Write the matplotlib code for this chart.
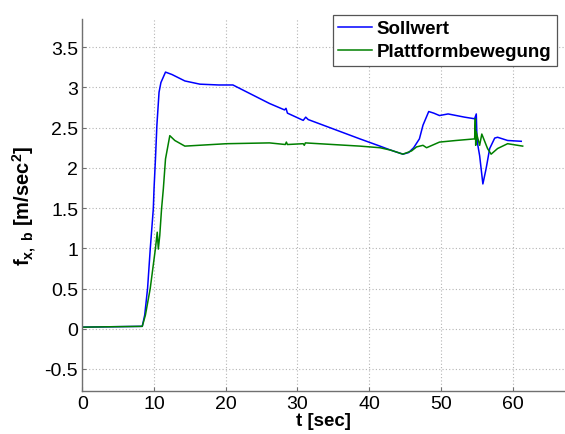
import matplotlib
matplotlib.use("Agg")
import matplotlib.pyplot as plt

plt.rcParams['font.family'] = ['Liberation Sans', 'DejaVu Sans']
plt.rcParams['mathtext.fontset'] = 'custom'
plt.rcParams['mathtext.rm'] = 'Liberation Sans:bold'
plt.rcParams['mathtext.it'] = 'Liberation Sans:bold'
plt.rcParams['mathtext.bf'] = 'Liberation Sans:bold'

# Sollwert (setpoint), breakpoints t [sec] / f [m/sec^2]
t_soll = [0, 8.36, 8.7, 9.1, 9.48, 9.9, 10.0, 10.2, 10.4, 10.7, 10.96, 11.6,
          12.5, 14.3, 16.4, 19.0, 21.0, 26.1, 28.2, 28.4, 28.6, 30.8, 31.15,
          31.5, 38.7, 41.5, 43.0, 44.7, 45.5, 46.2, 47.0, 47.5, 48.3, 49.0,
          49.8, 51.0, 53.3, 54.7, 54.93, 55.0, 55.07, 55.4, 55.85, 56.3, 56.8,
          57.5, 57.9, 59.3, 61.2]
f_soll = [0.02, 0.03, 0.17, 0.5, 1.0, 1.49, 1.74, 2.11, 2.53, 2.94, 3.06, 3.19,
          3.16, 3.08, 3.04, 3.03, 3.03, 2.80, 2.72, 2.74, 2.68, 2.59, 2.63,
          2.60, 2.36, 2.27, 2.22, 2.17, 2.19, 2.25, 2.36, 2.53, 2.70, 2.68,
          2.65, 2.67, 2.63, 2.61, 2.67, 2.45, 2.32, 2.15, 1.80, 1.99, 2.24,
          2.37, 2.38, 2.34, 2.33]

# Plattformbewegung (platform motion)
t_platt = [0, 8.36, 8.8, 9.47, 10.2, 10.45, 10.6, 10.8, 11.05, 11.3, 11.6,
           12.2, 12.9, 14.3, 20.1, 26.1, 28.3, 28.45, 28.6, 30.8, 30.95, 31.1,
           38.7, 41.5, 43.0, 44.7, 45.9, 46.6, 47.5, 48.0, 49.8, 52.1, 54.7,
           54.8, 54.85, 54.9, 55.4, 55.7, 56.5, 57.0, 57.9, 59.3, 61.4]
f_platt = [0.02, 0.03, 0.17, 0.5, 1.0, 1.20, 0.99, 1.16, 1.49, 1.74, 2.11,
           2.40, 2.34, 2.27, 2.30, 2.31, 2.29, 2.32, 2.29, 2.30, 2.28, 2.31,
           2.27, 2.25, 2.22, 2.17, 2.21, 2.26, 2.28, 2.25, 2.32, 2.34, 2.36,
           2.61, 2.28, 2.45, 2.28, 2.42, 2.24, 2.17, 2.24, 2.30, 2.27]

fig = plt.figure(figsize=(5.65, 4.35), dpi=100)
ax = fig.add_axes([82.3 / 565, 43.3 / 435, 1 - 82.3 / 565, (391.7 - 20) / 435])

ax.plot(t_soll, f_soll, color='#0000ff', lw=1.1, label='Sollwert')
ax.plot(t_platt, f_platt, color='#008000', lw=1.1, label='Plattformbewegung')

ax.set_xlim(0, 67.3)
ax.set_ylim(-0.77, 3.85)
ax.set_xticks([0, 10, 20, 30, 40, 50, 60])
ax.set_yticks([-0.5, 0, 0.5, 1, 1.5, 2, 2.5, 3, 3.5])
ax.set_yticklabels(['-0.5', '0', '0.5', '1', '1.5', '2', '2.5', '3', '3.5'])

ax.grid(True, color='#b4b4b4', linestyle=(0, (1, 2)), linewidth=0.8)
for side in ['top', 'right']:
    ax.spines[side].set_visible(False)
for side in ['left', 'bottom']:
    ax.spines[side].set_color('#707070')
    ax.spines[side].set_linewidth(1.0)
ax.tick_params(direction='in', length=3, color='#707070', labelsize=14, pad=3)

ax.set_xlabel('t [sec]', fontsize=13.5, fontweight='bold', labelpad=0)
ax.set_ylabel(r'f$_{\mathrm{x,\ b}}$ [m/sec$^{\mathrm{2}}$]', fontsize=14.5,
              fontweight='bold', labelpad=4)

leg = ax.legend(loc='upper right', bbox_to_anchor=(557 / 565, 419.3 / 435),
                bbox_transform=fig.transFigure, borderaxespad=0,
                prop={'weight': 'bold', 'size': 13.5}, fancybox=False,
                framealpha=1, edgecolor='#555555', handlelength=1.8,
                handletextpad=0.25, labelspacing=0.3, borderpad=0.3)
leg.get_frame().set_linewidth(0.9)

fig.savefig('out.png', dpi=100)
